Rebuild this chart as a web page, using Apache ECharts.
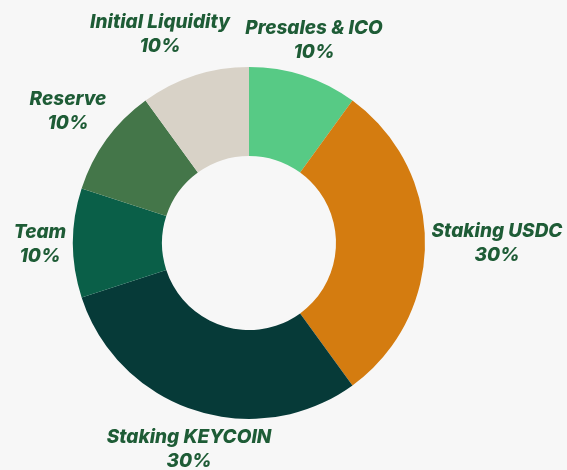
<!DOCTYPE html>
<html>
<head>
<meta charset="utf-8">
<script src="https://cdn.jsdelivr.net/npm/echarts@6/dist/echarts.min.js"></script>
<style>
  html, body { margin: 0; padding: 0; background: #f7f7f7; }
  #chart { width: 567px; height: 470px; }
</style>
</head>
<body>
<div id="chart"></div>
<script>
var names = ['Presales & ICO', 'Staking USDC', 'Staking KEYCOIN', 'Team', 'Reserve', 'Initial Liquidity'];
var shares = [10, 30, 30, 10, 10, 10];
var colors = ['#57ca85', '#d47c10', '#063a38', '#0a5f48', '#447649', '#d8d2c7'];

// where each label sits (label centre, px)
var labelPos = [[314, 40], [497, 243], [189, 449], [40, 244], [68, 111], [160, 34]];

var chart = echarts.init(document.getElementById('chart'));

chart.setOption({
    backgroundColor: '#f7f7f7',
    color: colors,
    series: [{
        type: 'pie',
        center: [249, 243],
        radius: [87, 176],
        startAngle: 90,
        clockwise: true,
        animation: false,
        data: names.map(function(n, i) {
            return { name: n, value: shares[i] };
        }),
        label: {
            show: true,
            position: 'outside',
            formatter: '{b}\n{d}%',
            color: '#1e5c36',
            fontFamily: 'Inter',
            fontWeight: 800,
            fontStyle: 'italic',
            fontSize: 19,
            lineHeight: 24,
            align: 'center',
            overflow: 'none'
        },
        labelLine: { show: false },
        labelLayout: function(p) {
            var pos = labelPos[p.dataIndex];
            return { x: pos[0], y: pos[1], align: 'center', verticalAlign: 'middle' };
        }
    }]
});
</script>
</body>
</html>
